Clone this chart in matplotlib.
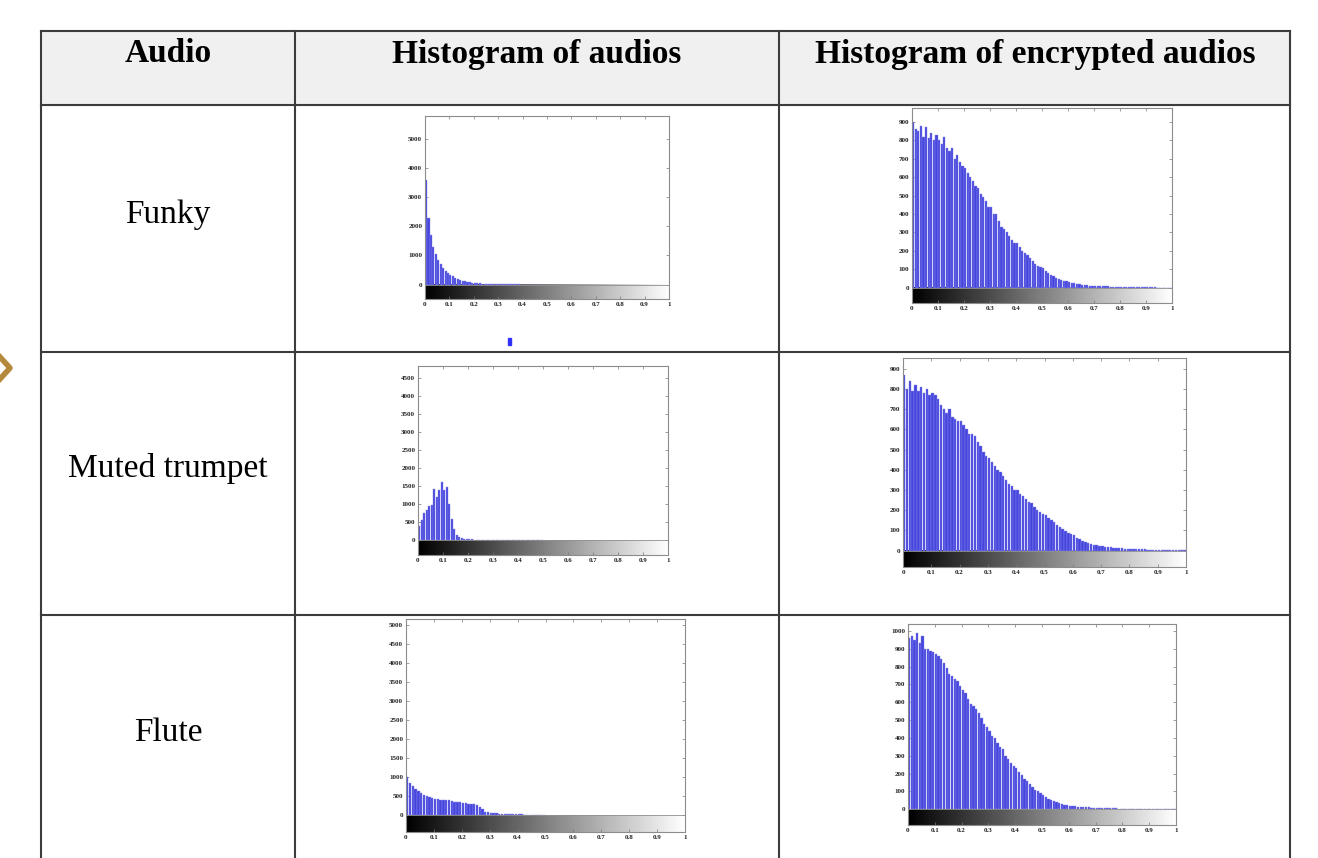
import numpy as np
import matplotlib
matplotlib.use("Agg")
import matplotlib.pyplot as plt

W, H = 1318, 858

# table text
headers = ["Audio", "Histogram of audios", "Histogram of encrypted audios"]
audio_names = ["Funky", "Muted trumpet", "Flute"]

# histogram counts, bins of width 0.01 starting at 0
funky_orig = [3600, 2300, 1700, 1300, 1050, 850, 700, 580, 480, 400,
              330, 280, 230, 190, 160, 135, 115, 95, 80, 68,
              58, 50, 43, 37, 32, 28, 24, 21, 18, 16,
              14, 12, 11, 10, 9, 8, 7, 6, 6, 5,
              5, 4, 4, 4, 3, 3, 3, 2, 2, 2]
trumpet_orig = [380, 550, 750, 850, 950, 980, 1430, 1200, 1380, 1600,
                1400, 1480, 1000, 600, 300, 150, 100, 65, 45, 35,
                28, 22, 18, 14, 12, 10, 8, 7, 6, 5,
                5, 4, 4, 3, 3, 3, 2, 2, 2, 2,
                2, 1, 1, 1, 1, 1, 1, 1, 1, 1]
flute_orig = [1000, 850, 760, 700, 640, 580, 540, 500, 470, 450,
              430, 420, 410, 400, 390, 390, 380, 360, 350, 340,
              330, 320, 310, 300, 290, 280, 230, 160, 100, 75,
              60, 55, 50, 45, 42, 38, 35, 32, 30, 28,
              25, 22, 20, 18, 16, 15, 14, 13, 12, 11]

funky_enc = [900, 860, 850, 880, 820, 870, 810, 840, 800, 830,
             800, 780, 820, 760, 740, 760, 700, 720, 680, 660,
             650, 620, 600, 580, 550, 540, 510, 490, 470, 440,
             440, 400, 400, 360, 330, 320, 300, 280, 260, 240,
             240, 220, 200, 190, 175, 160, 145, 130, 120, 110,
             105, 90, 80, 70, 62, 55, 48, 42, 38, 34,
             30, 27, 24, 21, 19, 17, 15, 13, 12, 11,
             10, 9, 9, 8, 7, 7, 6, 6, 5, 5,
             5, 4, 4, 4, 3, 3, 3, 3, 2, 2,
             2, 2, 2, 2, 1, 1, 1, 1, 1, 1]
trumpet_enc = [870, 800, 840, 790, 820, 790, 810, 780, 800, 770,
               780, 770, 750, 720, 700, 680, 700, 660, 650, 640,
               640, 620, 600, 580, 580, 570, 540, 520, 490, 470,
               460, 440, 420, 400, 390, 370, 350, 330, 320, 300,
               300, 280, 270, 255, 240, 235, 215, 200, 190, 180,
               175, 160, 150, 140, 125, 115, 105, 95, 88, 80,
               75, 65, 58, 50, 45, 40, 35, 30, 28, 25,
               22, 20, 18, 17, 15, 14, 12, 11, 10, 10,
               9, 8, 7, 7, 6, 6, 5, 5, 4, 4,
               4, 4, 3, 3, 3, 3, 2, 2, 2, 2]
flute_enc = [960, 970, 950, 990, 930, 970, 900, 900, 890, 880,
             870, 860, 840, 820, 790, 760, 750, 730, 720, 690,
             670, 650, 620, 590, 580, 560, 540, 510, 480, 460,
             440, 410, 400, 370, 350, 340, 300, 280, 260, 240,
             230, 210, 190, 170, 160, 140, 125, 110, 100, 90,
             80, 70, 60, 52, 45, 40, 35, 30, 26, 23,
             20, 18, 16, 14, 13, 12, 11, 10, 9, 8,
             8, 7, 7, 6, 6, 5, 5, 5, 4, 4,
             4, 4, 3, 3, 3, 3, 2, 2, 2, 2,
             2, 2, 2, 1, 1, 1, 1, 1, 1, 1]

# y ticks per panel
yticks_list = [
    np.arange(0, 5001, 1000), np.arange(0, 901, 100),
    np.arange(0, 4501, 500), np.arange(0, 901, 100),
    np.arange(0, 5001, 500), np.arange(0, 1001, 100),
]
ytop_list = [5780, 975, 4830, 954, 5160, 1039]


def px_rect(x0, y0, x1, y1):
    return [x0 / W, 1 - y1 / H, (x1 - x0) / W, (y1 - y0) / H]


def draw_hist(fig, rect, counts, yticks, ytop):
    ax = fig.add_axes(px_rect(*rect))
    ylow = -0.085 * ytop
    edges = np.arange(len(counts)) * 0.01
    ax.bar(edges, counts, width=0.0085, align='edge', color='#4545dd',
           edgecolor='#8a8aee', linewidth=0.3, zorder=2)
    grad = np.linspace(0, 1, 256).reshape(1, -1)
    ax.imshow(grad, cmap='gray', aspect='auto', extent=[0, 1, ylow, 0], zorder=1)
    ax.axhline(0, color='#909090', lw=0.6, zorder=3)
    ax.set_xlim(0, 1)
    ax.set_ylim(ylow, ytop)
    ax.set_xticks(np.arange(0, 1.01, 0.1))
    ax.set_xticklabels(['0'] + ['%.1f' % v for v in np.arange(0.1, 0.95, 0.1)] + ['1'])
    ax.set_yticks(yticks)
    ax.set_yticklabels([str(v) for v in yticks])
    ax.tick_params(direction='in', length=2, width=0.5, color='#777777',
                   top=True, right=True, labelsize=5, pad=2)
    for lab in ax.get_xticklabels() + ax.get_yticklabels():
        lab.set_fontfamily('Liberation Serif')
        lab.set_fontweight('bold')
        lab.set_color('#222222')
    for sp in ax.spines.values():
        sp.set_color('#8c8c8c')
        sp.set_linewidth(0.8)
    return ax


def main():
    fig = plt.figure(figsize=(W / 100, H / 100), dpi=100)
    bg = fig.add_axes([0, 0, 1, 1])
    bg.set_xlim(0, W)
    bg.set_ylim(H, 0)
    bg.axis('off')

    # header background
    bg.add_patch(plt.Rectangle((41, 31), 1249, 74, color='#f0f0f0', zorder=0))

    # table lines
    lc = '#3c3c3c'
    for x in [41, 295, 779, 1290]:
        bg.plot([x, x], [31, H + 5], color=lc, lw=1.5)
    for y in [31, 105, 352, 615]:
        bg.plot([41, 1290], [y, y], color=lc, lw=1.5)

    # decorations
    bg.plot([0, 10, 0], [357, 368, 379], color='#b5893c', lw=4)
    bg.add_patch(plt.Rectangle((508, 338), 3, 7, color='#3030ff'))

    col_x = [168, 537, 1035]
    for x, t in zip(col_x, headers):
        bg.text(x, 54, t, ha='center', va='center', fontsize=24,
                fontweight='bold', family='Liberation Serif')
    row_y = [215, 469, 733]
    for y, t in zip(row_y, audio_names):
        bg.text(168, y, t, ha='center', va='center', fontsize=24,
                family='Liberation Serif')

    rects = [
        (425, 116, 669, 299), (912, 108, 1172, 303),
        (418, 366, 668, 555), (903, 358, 1186, 567),
        (406, 619, 685, 832), (908, 624, 1176, 825),
    ]
    data = [funky_orig, funky_enc, trumpet_orig, trumpet_enc, flute_orig, flute_enc]
    for rect, counts, yt, top in zip(rects, data, yticks_list, ytop_list):
        draw_hist(fig, rect, counts, yt, top)

    fig.savefig('out.png', dpi=100)


if __name__ == "__main__":
    main()
